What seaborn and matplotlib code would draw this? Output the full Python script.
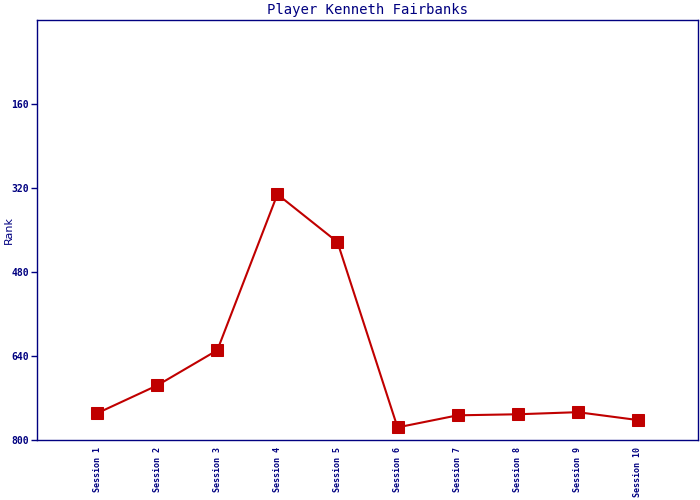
import pandas as pd
import seaborn as sns
import matplotlib.pyplot as plt

sessions = ["Session %d" % i for i in range(1, 11)]
positions = list(range(1, 11))
ranks = [749, 696, 629, 332, 423, 776, 753, 751, 747, 762]

df = pd.DataFrame({"pos": positions, "Rank": ranks})

sns.set_style("white")
plt.rcParams['font.family'] = ['DejaVu Sans Mono', 'DejaVu Sans']

navy = "#000080"
red = "#C00000"

fig = plt.figure(figsize=(7, 5), dpi=100)
ax = fig.add_axes([0.053, 0.12, 0.944, 0.84])

sns.lineplot(data=df, x="pos", y="Rank", ax=ax, color=red, linewidth=1.5,
             marker="s", markersize=8, markeredgecolor=red)

ax.set_xlim(0, 11)
ax.set_ylim(800, 0)
ax.set_yticks([160, 320, 480, 640, 800])
ax.set_yticklabels(["160", "320", "480", "640", "800"], fontsize=7, color=navy, fontweight="bold")
ax.set_xticks(positions)
ax.set_xticklabels(sessions, rotation=90, fontsize=6, color=navy, fontweight="bold")
ax.tick_params(axis="y", direction="out", length=4, width=1, color=navy, pad=2, left=True)
ax.tick_params(axis="x", length=0, pad=5)

for s in ax.spines.values():
    s.set_color(navy)
    s.set_linewidth(1)

ax.set_xlabel("")
ax.set_ylabel("")
fig.text(0.012, 0.54, "Rank", rotation=90, fontsize=8, color=navy,
         family="DejaVu Sans", ha="center", va="center")
ax.set_title("Player Kenneth Fairbanks", fontsize=10, color=navy, pad=4)

plt.savefig("out.png", dpi=100)
